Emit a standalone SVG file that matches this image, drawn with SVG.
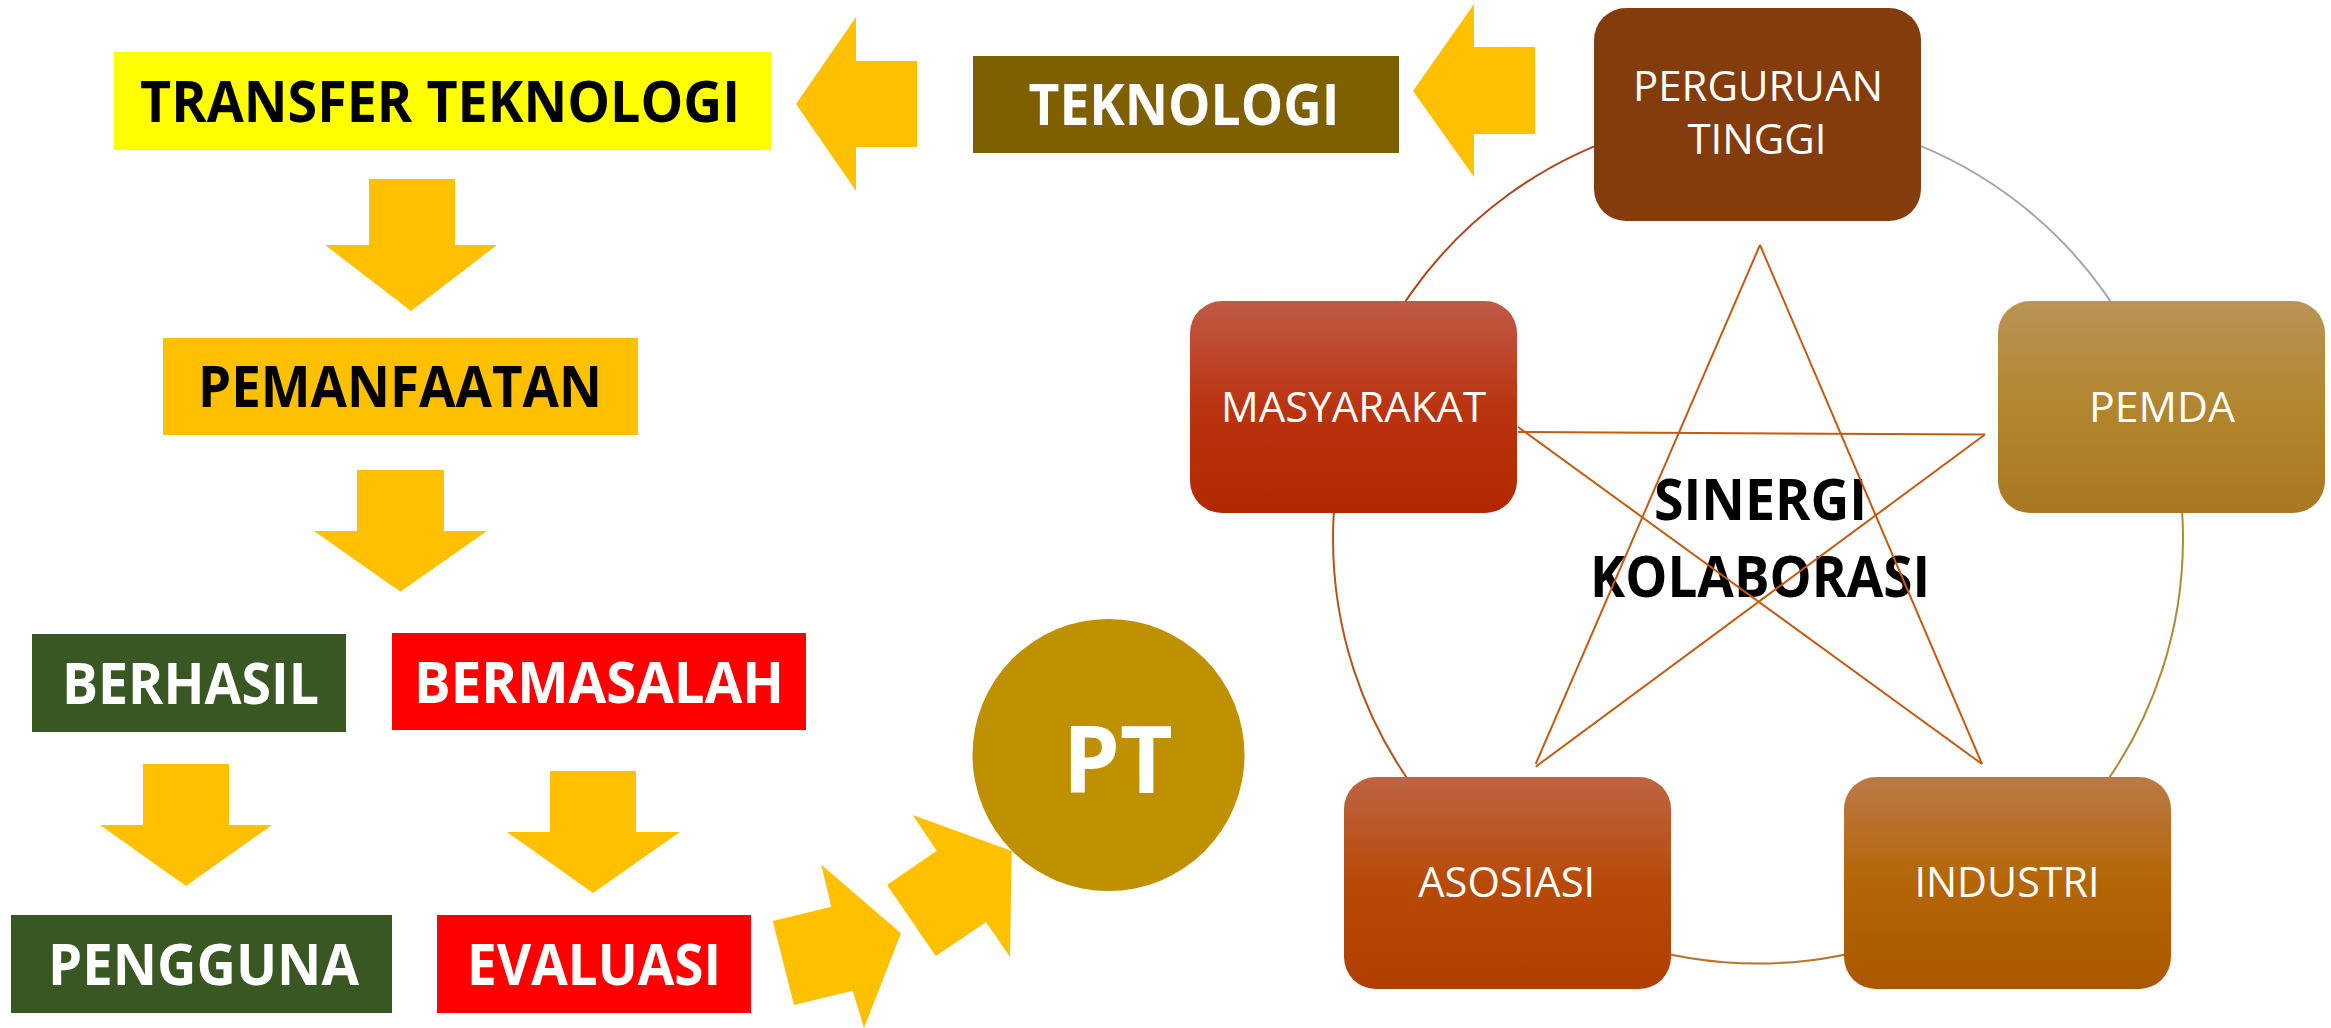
<svg xmlns="http://www.w3.org/2000/svg" width="2331" height="1028" viewBox="0 0 2331 1028">
<style>
.b{font-family:"Open Sans","Liberation Sans",sans-serif;font-weight:700;font-size:57px;text-anchor:middle}
.r{font-family:"Open Sans","Liberation Sans",sans-serif;font-weight:400;font-size:42px;text-anchor:middle;fill:#fff}
.w{fill:#fff}.k{fill:#000}
.big{font-size:94px}
.arr{fill:#FFC000}
.star{stroke:#C55A11;stroke-width:2;fill:none}
.arc{fill:none;stroke-width:2}
</style>
<defs>
<linearGradient id="gM" x1="0" y1="0" x2="0" y2="1"><stop offset="0" stop-color="#C05A48"/><stop offset="0.5" stop-color="#BA3410"/><stop offset="1" stop-color="#B22800"/></linearGradient>
<linearGradient id="gP" x1="0" y1="0" x2="0" y2="1"><stop offset="0" stop-color="#B99455"/><stop offset="0.5" stop-color="#B2862E"/><stop offset="1" stop-color="#A87822"/></linearGradient>
<linearGradient id="gA" x1="0" y1="0" x2="0" y2="1"><stop offset="0" stop-color="#BE6443"/><stop offset="0.5" stop-color="#B84A08"/><stop offset="1" stop-color="#B03E00"/></linearGradient>
<linearGradient id="gI" x1="0" y1="0" x2="0" y2="1"><stop offset="0" stop-color="#BB7946"/><stop offset="0.5" stop-color="#B46606"/><stop offset="1" stop-color="#AA5800"/></linearGradient>
</defs>
<rect width="2331" height="1028" fill="#fff"/>

<g id="cycle">
<path class="arc" stroke="#A6A6A6" d="M1758 113.6 A425 425 0 0 1 2162.2 407.3"/>
<path class="arc" stroke="#B08A2E" d="M2162.2 407.3 A425 425 0 0 1 2007.8 882.4"/>
<path class="arc" stroke="#BC7228" d="M2007.8 882.4 A425 425 0 0 1 1508.2 882.4"/>
<path class="arc" stroke="#B4541A" d="M1508.2 882.4 A425 425 0 0 1 1353.8 407.3"/>
<path class="arc" stroke="#B0421A" d="M1353.8 407.3 A425 425 0 0 1 1758 113.6"/>
</g>

<g id="center-label">
<text class="b k" x="1760.5" y="519.5" textLength="213" lengthAdjust="spacingAndGlyphs">SINERGI</text>
<text class="b k" x="1760" y="596.5" textLength="340" lengthAdjust="spacingAndGlyphs">KOLABORASI</text>
</g>

<g id="star">
<line class="star" x1="1760" y1="245" x2="1535.7" y2="764"/>
<line class="star" x1="1760" y1="245" x2="1982" y2="764"/>
<line class="star" x1="1518" y1="432" x2="1985" y2="434.5" stroke-width="3"/>
<line class="star" x1="1518" y1="427" x2="1982" y2="764"/>
<line class="star" x1="1985" y1="434.5" x2="1535.7" y2="766.7"/>
</g>

<g id="node-perguruan">
<rect x="1594" y="8" width="327" height="213" rx="32" fill="#843C0C"/>
<text class="r" x="1758" y="100.7" textLength="250" lengthAdjust="spacingAndGlyphs">PERGURUAN</text>
<text class="r" x="1757" y="153.7" textLength="139" lengthAdjust="spacingAndGlyphs">TINGGI</text>
</g>
<g id="node-masyarakat">
<rect x="1190" y="301" width="327" height="212" rx="32" fill="url(#gM)"/>
<text class="r" x="1353.5" y="421.7" textLength="265" lengthAdjust="spacingAndGlyphs">MASYARAKAT</text>
</g>
<g id="node-pemda">
<rect x="1998" y="301" width="327" height="212" rx="32" fill="url(#gP)"/>
<text class="r" x="2162" y="421.7" textLength="146" lengthAdjust="spacingAndGlyphs">PEMDA</text>
</g>
<g id="node-asosiasi">
<rect x="1344" y="777" width="327" height="212" rx="32" fill="url(#gA)"/>
<text class="r" x="1506.7" y="896.7" textLength="177" lengthAdjust="spacingAndGlyphs">ASOSIASI</text>
</g>
<g id="node-industri">
<rect x="1844" y="777" width="327" height="212" rx="32" fill="url(#gI)"/>
<text class="r" x="2007" y="896.7" textLength="185" lengthAdjust="spacingAndGlyphs">INDUSTRI</text>
</g>

<g id="node-transfer">
<rect x="114" y="52" width="657" height="98" fill="#FFFF00"/>
<text class="b k" x="440" y="122" textLength="600" lengthAdjust="spacingAndGlyphs">TRANSFER TEKNOLOGI</text>
</g>
<g id="node-teknologi">
<rect x="973" y="56" width="426" height="97" fill="#7F6000"/>
<text class="b w" x="1184" y="125" textLength="311" lengthAdjust="spacingAndGlyphs">TEKNOLOGI</text>
</g>
<g id="node-pemanfaatan">
<rect x="163" y="338" width="475" height="97" fill="#FFC000"/>
<text class="b k" x="400" y="407" textLength="404" lengthAdjust="spacingAndGlyphs">PEMANFAATAN</text>
</g>
<g id="node-berhasil">
<rect x="32" y="634" width="314" height="98" fill="#385723"/>
<text class="b w" x="190.5" y="704" textLength="257" lengthAdjust="spacingAndGlyphs">BERHASIL</text>
</g>
<g id="node-bermasalah">
<rect x="392" y="633" width="414" height="97" fill="#FF0000"/>
<text class="b w" x="599" y="703" textLength="370" lengthAdjust="spacingAndGlyphs">BERMASALAH</text>
</g>
<g id="node-pengguna">
<rect x="11" y="915" width="381" height="98" fill="#385723"/>
<text class="b w" x="203.5" y="985" textLength="311" lengthAdjust="spacingAndGlyphs">PENGGUNA</text>
</g>
<g id="node-evaluasi">
<rect x="437" y="915" width="314" height="98" fill="#FF0000"/>
<text class="b w" x="594" y="985" textLength="254" lengthAdjust="spacingAndGlyphs">EVALUASI</text>
</g>
<g id="node-pt">
<circle cx="1108.5" cy="755" r="136" fill="#BF9000"/>
<text class="b w big" x="1117.7" y="793" textLength="110" lengthAdjust="spacingAndGlyphs">PT</text>
</g>

<g id="connectors">
<polygon class="arr" points="1413,91 1474,4 1474,47 1535,47 1535,134 1474,134 1474,177"/>
<polygon class="arr" points="796,104 856,17 856,61 917,61 917,147 856,147 856,191"/>
<polygon class="arr" points="369,179 455,179 455,245 497,245 411,311 325,245 369,245"/>
<polygon class="arr" points="357,470 444,470 444,531 487,531 400.3,591.7 314,531 357,531"/>
<polygon class="arr" points="143,764 229,764 229,825 272,825 186,886 100,825 143,825"/>
<polygon class="arr" points="550,771 636,771 636,832 680,832 593,893 507,832 550,832"/>
<polygon class="arr" points="772.7,921 831.3,906.7 821.3,864.7 901,933.3 864,1028 852.7,990.7 794,1005"/>
<polygon class="arr" points="887,885 936.7,850.7 912.7,815 1011.7,851 1010,957 986,922.3 935.7,956"/>
</g>
</svg>
